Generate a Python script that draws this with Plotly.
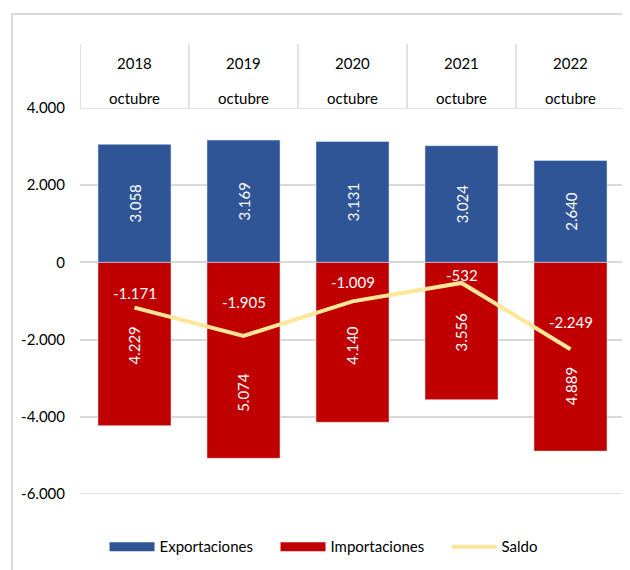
import plotly.graph_objects as go

years = ["2018", "2019", "2020", "2021", "2022"]
month_label = "octubre"
exportaciones = [3058, 3169, 3131, 3024, 2640]
importaciones = [4229, 5074, 4140, 3556, 4889]
saldo = [-1171, -1905, -1009, -532, -2249]
y_ticks = [4000, 2000, 0, -2000, -4000, -6000]

# label offsets (pixels) used to mimic the reference label placement
saldo_label_shift = [15, 34, 19, 8, 27]
imp_label_shift = [-2, -32, -3, -1, -30]

FONT = "Lato"
BLUE = "#2F5597"
RED = "#C00000"
SALDO = "#FFE699"
GRID = "#D9D9D9"
FS = 15

def fmt(v):
    return f"{v:,.0f}".replace(",", ".")

fig = go.Figure()
fig.add_trace(go.Bar(
    x=list(range(len(years))), y=exportaciones, name="Exportaciones",
    marker=dict(color=BLUE), showlegend=False,
    text=[fmt(v) for v in exportaciones], textposition="inside",
    insidetextanchor="middle", textangle=-90,
    textfont=dict(color="white", size=FS, family=FONT),
))
fig.add_trace(go.Bar(
    x=list(range(len(years))), y=[-v for v in importaciones], name="Importaciones",
    marker=dict(color=RED), showlegend=False,
))
fig.add_trace(go.Scatter(
    x=list(range(len(years))), y=saldo, name="Saldo", mode="lines",
    line=dict(color=SALDO, width=4), showlegend=False,
))
# legend entries (Excel-like wide swatches)
for name, col, w in [("Exportaciones", BLUE, 9), ("Importaciones", RED, 9), ("Saldo", SALDO, 4)]:
    fig.add_trace(go.Scatter(x=[None], y=[None], mode="lines", name=name,
                             line=dict(color=col, width=w)))

shapes = []
n = len(years)
for i in range(n + 1):
    shapes.append(dict(type="line", xref="x", yref="paper",
                       x0=i - 0.5, x1=i - 0.5, y0=1.0, y1=1.166,
                       line=dict(color=GRID, width=1.5)))
# gridlines at the range ends (top one closes the header table)
for yv in (y_ticks[0], y_ticks[-1]):
    shapes.append(dict(type="line", xref="paper", yref="y", x0=0, x1=1, y0=yv, y1=yv,
                       line=dict(color=GRID, width=1.5), layer="below"))
shapes.append(dict(type="rect", xref="paper", yref="paper",
                   x0=-0.1248, x1=1.03, y0=-0.25, y1=1.2435,
                   line=dict(color=GRID, width=2), fillcolor="rgba(0,0,0,0)"))

annotations = []
for i, yr in enumerate(years):
    annotations.append(dict(x=i, xref="x", y=1.145, yref="paper", text=yr,
                            showarrow=False, font=dict(size=FS, family=FONT, color="black")))
    annotations.append(dict(x=i, xref="x", y=1.054, yref="paper", text=month_label,
                            showarrow=False, font=dict(size=FS, family=FONT, color="black")))
    annotations.append(dict(x=i, xref="x", y=saldo[i], yref="y", text=fmt(saldo[i]),
                            yshift=saldo_label_shift[i], showarrow=False,
                            font=dict(size=FS, family=FONT, color="white")))
    annotations.append(dict(x=i, xref="x", y=-importaciones[i] / 2, yref="y",
                            text=fmt(importaciones[i]), textangle=-90,
                            yshift=imp_label_shift[i], showarrow=False,
                            font=dict(size=FS, family=FONT, color="white")))

fig.update_layout(
    width=622, height=562,
    margin=dict(l=72, r=5, t=100, b=76),
    paper_bgcolor="white", plot_bgcolor="white",
    barmode="relative", bargap=0.33,
    font=dict(family=FONT, size=FS, color="black"),
    showlegend=True,
    legend=dict(orientation="h", x=0.045, xanchor="left", y=-0.137, yanchor="middle",
                font=dict(size=FS, family=FONT), traceorder="normal", itemwidth=45,
                entrywidth=111),
    shapes=shapes, annotations=annotations,
    xaxis=dict(showticklabels=False, showgrid=False, zeroline=False,
               showline=False, range=[-0.5, 4.5]),
    yaxis=dict(range=[-6000, 4000], tickvals=y_ticks, ticktext=[fmt(v) for v in y_ticks],
               showgrid=True, gridcolor=GRID, gridwidth=1.5,
               zeroline=True, zerolinecolor=GRID, zerolinewidth=1.5,
               showline=False, ticks="", ticklabelstandoff=14,
               tickfont=dict(size=FS, family=FONT)),
)

fig.write_html("out.html")
